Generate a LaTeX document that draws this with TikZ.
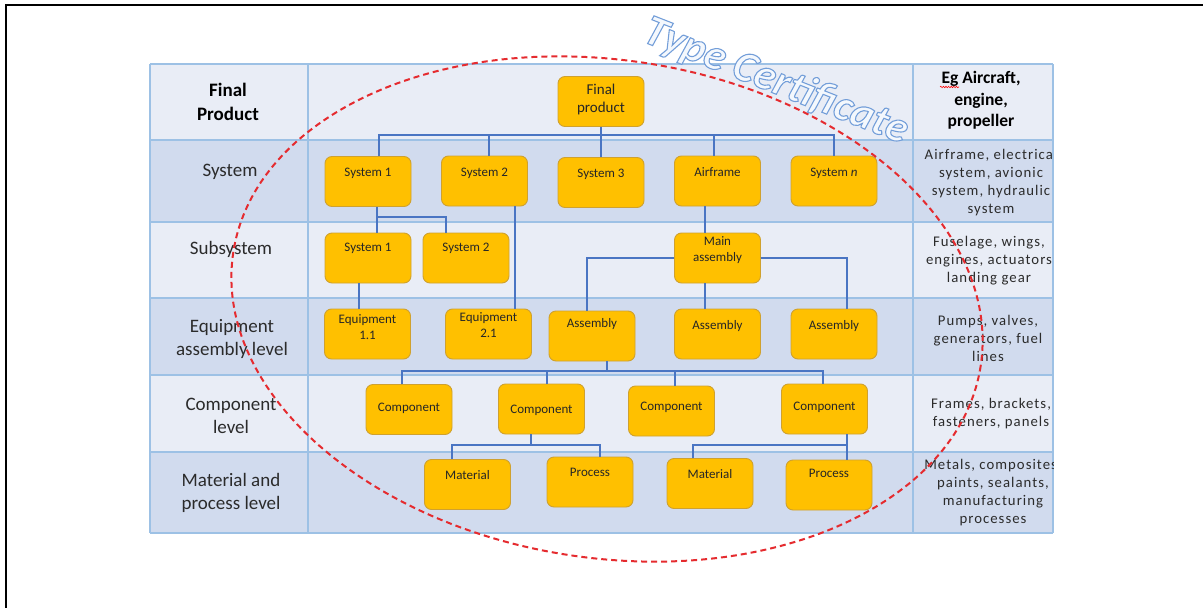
\documentclass[tikz,border=0pt]{standalone}
\usepackage{fontspec}
\setmainfont{Carlito}
\newfontfamily\spc[LetterSpace=7]{Carlito}
\newfontfamily\tcfont[FakeBold=2.5]{Carlito Bold Italic}
\usetikzlibrary{calc,decorations.pathmorphing}
\definecolor{rowlt}{HTML}{E9EDF6}
\definecolor{rowdk}{HTML}{D1DBEE}
\definecolor{gridc}{HTML}{9DC1E5}
\definecolor{connc}{HTML}{4A75C3}
\definecolor{boxfill}{HTML}{FFC000}
\definecolor{boxline}{HTML}{CFA12F}
\definecolor{boxtxt}{HTML}{262626}
\definecolor{tabtxt}{HTML}{2B2B2B}
\definecolor{ellc}{HTML}{E52B2F}
\definecolor{tcfill}{HTML}{F4F8FD}
\begin{document}
\begin{tikzpicture}[x=1pt,y=-1pt,
  box/.style={draw=boxline, fill=boxfill, line width=0.9pt, rounded corners=7pt, minimum width=86pt, minimum height=50pt, inner sep=0pt},
  btxt/.style={font=\fontsize{13}{16}\selectfont, text=boxtxt, align=center, inner sep=0pt},
  fptxt/.style={font=\fontsize{15}{18}\selectfont, text=boxtxt, align=center, inner sep=0pt},
  conn/.style={draw=connc, line width=1.4pt},
  ltxt/.style={font=\fontsize{19}{23}\selectfont, text=tabtxt, align=center, inner sep=0pt},
  lbold/.style={font=\fontsize{19}{24}\selectfont\bfseries, text=black, align=center, inner sep=0pt},
  rtxt/.style={font=\spc\fontsize{14.75}{18}\selectfont, text=tabtxt, align=center, inner sep=0pt},
  rbold/.style={font=\fontsize{17.5}{21.5}\selectfont\bfseries, text=black, align=center, inner sep=0pt},
  gridline/.style={draw=gridc, line width=1.5pt},
  ell/.style={draw=ellc, line width=2pt, dash pattern=on 6pt off 4pt},
  tctxt/.style={rotate=-21.5, anchor=base west, inner sep=0pt, font=\tcfont\fontsize{43.5}{43.5}\selectfont},
]
\useasboundingbox (0,0) rectangle (1203,608);
\fill[white] (0,0) rectangle (1203,608);
\draw[black, line width=1.6pt] (6,608) -- (6,5) -- (1203,5);

% table
\fill[rowlt] (150,64) rectangle (1053,140);
\fill[rowdk] (150,140) rectangle (1053,222);
\fill[rowlt] (150,222) rectangle (1053,298);
\fill[rowdk] (150,298) rectangle (1053,375);
\fill[rowlt] (150,375) rectangle (1053,452);
\fill[rowdk] (150,452) rectangle (1053,533);
\foreach \yy in {64,140,222,298,375,452,533} \draw[gridline] (150,\yy) -- (1053,\yy);
\foreach \xx in {150,308,913,1053} \draw[gridline] (\xx,64) -- (\xx,533);

% boxes
\node[box] (fp) at (601,101.5) {};
\node[box] (s1) at (368,181.5) {};
\node[box] (s2) at (484.5,181) {};
\node[box] (s3) at (601,182.5) {};
\node[box] (af) at (717.5,181) {};
\node[box] (sn) at (834,181) {};
\node[box] (ss1) at (368,258) {};
\node[box] (ss2) at (466,258) {};
\node[box] (ma) at (717.5,258) {};
\node[box] (e1) at (367.5,334) {};
\node[box] (e2) at (488.5,334) {};
\node[box] (a1) at (592,336) {};
\node[box] (a2) at (717.5,334) {};
\node[box] (a3) at (834,334) {};
\node[box] (c1) at (409,409.5) {};
\node[box] (c2) at (541.5,409) {};
\node[box] (c3) at (671.5,411) {};
\node[box] (c4) at (824.5,409) {};
\node[box] (m1) at (467.5,484.5) {};
\node[box] (p1) at (590,482) {};
\node[box] (m2) at (710,483.5) {};
\node[box] (p2) at (829,485) {};

% box texts
\node[fptxt] (fpt) at (601,99) {Final\\product};
\node[btxt] (s1t) at (368,173) {System 1};
\node[btxt] (s2t) at (484.5,173) {System 2};
\node[btxt] (s3t) at (601,174) {System 3};
\node[btxt] (aft) at (717.5,172) {Airframe};
\node[btxt] (snt) at (834,173) {System \textit{n}};
\node[btxt] (ss1t) at (368,248) {System 1};
\node[btxt] (ss2t) at (466,248) {System 2};
\node[btxt] (mat) at (717.5,250) {Main\\assembly};
\node[btxt] (e1t) at (367.5,327) {Equipment\\1.1};
\node[btxt] (e2t) at (488.5,325.5) {Equipment\\2.1};
\node[btxt] (a1t) at (592,324) {Assembly};
\node[btxt] (a2t) at (717.5,326) {Assembly};
\node[btxt] (a3t) at (834,326) {Assembly};
\node[btxt] (c1t) at (409,408) {Component};
\node[btxt] (c2t) at (541.5,410) {Component};
\node[btxt] (c3t) at (671.5,407) {Component};
\node[btxt] (c4t) at (824.5,407) {Component};
\node[btxt] (m1t) at (467.5,475) {Material};
\node[btxt] (p1t) at (590,472) {Process};
\node[btxt] (m2t) at (710,474) {Material};
\node[btxt] (p2t) at (829,473) {Process};

% connectors
\coordinate (bus1) at (0,135);
\coordinate (bus2) at (0,217);
\coordinate (bus3) at (0,371);
\coordinate (bus4) at (0,445);
\draw[conn] (fp.south) -- (fp.south |- bus1);
\draw[conn] ($(s1.north)+(11,0)$) |- (sn.north |- bus1) -- (sn.north);
\draw[conn] ($(s2.north)+(4.5,0)$) -- ($(s2.north |- bus1)+(4.5,0)$);
\draw[conn] (s3.north) -- (s3.north |- bus1);
\draw[conn] ($(af.north)+(-3.5,0)$) -- ($(af.north |- bus1)+(-3.5,0)$);
\draw[conn] ($(s1.south)+(9,0)$) -- ($(ss1.north)+(9,0)$);
\draw[conn] ($(s1.south |- bus2)+(9,0)$) -| ($(ss2.north)+(-20,0)$);
\draw[conn] ($(s2.south)+(30.5,0)$) -- ($(s2.south |- e2.north)+(30.5,0)$);
\draw[conn] ($(ss1.south)+(-9,0)$) -- ($(ss1.south |- e1.north)+(-9,0)$);
\draw[conn] ($(af.south)+(-12.5,0)$) -- ($(af.south |- ma.north)+(-12.5,0)$);
\draw[conn] (ma.west) -| ($(a1.north)+(-5,0)$);
\draw[conn] (ma.east) -| ($(a3.north)+(13,0)$);
\draw[conn] ($(ma.south)+(-12.5,0)$) -- ($(ma.south |- a2.north)+(-12.5,0)$);
\draw[conn] ($(a1.south)+(15,0)$) -- ($(a1.south |- bus3)+(15,0)$);
\draw[conn] ($(c1.north)+(-7,0)$) |- ($(c4.north |- bus3)+(-1.5,0)$) -- ($(c4.north)+(-1.5,0)$);
\draw[conn] ($(c2.north)+(5.5,0)$) -- ($(c2.north |- bus3)+(5.5,0)$);
\draw[conn] ($(c3.north)+(3.5,0)$) -- ($(c3.north |- bus3)+(3.5,0)$);
\draw[conn] ($(c2.south)+(-10.5,0)$) -- ($(c2.south |- bus4)+(-10.5,0)$);
\draw[conn] ($(m1.north)+(-15.5,0)$) |- ($(p1.north |- bus4)+(10,0)$) -- ($(p1.north)+(10,0)$);
\draw[conn] ($(c4.south)+(22.5,0)$) -- ($(c4.south |- bus4)+(22.5,0)$);
\draw[conn] ($(m2.north)+(-17,0)$) |- ($(p2.north |- bus4)+(18,0)$) -- ($(p2.north)+(18,0)$);

% left column
\node[lbold] (l1) at (228,102) {Final\\Product};
\node[ltxt] (l2) at (230,172) {System};
\node[ltxt] (l3) at (231,249) {Subsystem};
\node[ltxt] (l4) at (232,338.5) {Equipment\\assembly level};
\node[ltxt] (l5) at (231,416) {Component\\level};
\node[ltxt] (l6) at (231,492.5) {Material and\\process level};

% right column
\node[rbold] (r1) at (981,100.5) {Eg Aircraft,\\engine,\\propeller};
\draw[red, line width=0.6pt, decorate, decoration={snake, amplitude=0.7pt, segment length=2.6pt}] (940,87) -- (959,87);
\begin{scope}
\clip (913,64) rectangle (1053,533);
\node[rtxt] (r2) at (991,183) {Airframe, electrical\\system, avionic\\system, hydraulic\\system};
\node[rtxt] (r3) at (989,261) {Fuselage, wings,\\engines, actuators\\landing gear};
\node[rtxt] (r4) at (988,338) {Pumps, valves,\\generators, fuel\\lines};
\node[rtxt] (r5) at (991,414) {Frames, brackets,\\fasteners, panels};
\node[rtxt] (r6) at (993,493) {Metals, composites,\\paints, sealants,\\manufacturing\\processes};
\end{scope}

% ellipse
\draw[ell, rotate around={-8.6:(607,309)}] (607,309) ellipse [x radius=378, y radius=249];

% Type Certificate (white fill, blue stroke)
\node[tctxt] (tc) at (641,41)
 {\color{tcfill}\special{pdf:literal direct 0.45 0.62 0.85 RG}Type Certificate};
\end{tikzpicture}
\end{document}
